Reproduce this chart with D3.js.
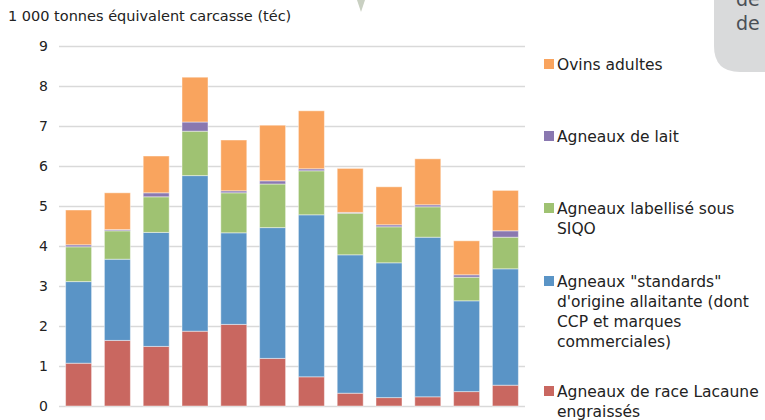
<!DOCTYPE html>
<html>
<head>
<meta charset="utf-8">
<script src="https://cdn.jsdelivr.net/npm/d3@7"></script>
<style>
  body { margin: 0; background: #fff; }
  svg { display: block; font-family: "DejaVu Sans", sans-serif; }
</style>
</head>
<body>
<div id="chart"></div>
<script>
// Data (1 000 téc), bottom to top
const months = ["janv", "févr", "mars", "avr", "mai", "juin", "juil", "août", "sept", "oct", "nov", "déc"];
const lacaune   = [1.07, 1.64, 1.49, 1.87, 2.04, 1.19, 0.73, 0.32, 0.21, 0.23, 0.36, 0.52];
const standards = [2.04, 2.03, 2.85, 3.89, 2.29, 3.27, 4.05, 3.46, 3.37, 3.99, 2.27, 2.91];
const siqo      = [0.87, 0.71, 0.89, 1.11, 1.00, 1.09, 1.10, 1.04, 0.90, 0.76, 0.59, 0.79];
const lait      = [0.05, 0.03, 0.10, 0.23, 0.05, 0.08, 0.05, 0.02, 0.05, 0.05, 0.06, 0.16];
const adultes   = [0.87, 0.92, 0.92, 1.12, 1.27, 1.39, 1.45, 1.10, 0.95, 1.15, 0.85, 1.01];
const yTicks = [0, 1, 2, 3, 4, 5, 6, 7, 8, 9];

const series = [
  { key: "lacaune",   values: lacaune,   color: "#c96760", label: ["Agneaux de race Lacaune", "engraissés"] },
  { key: "standards", values: standards, color: "#5a94c6", label: ["Agneaux \"standards\"", "d'origine allaitante (dont", "CCP et marques", "commerciales)"] },
  { key: "siqo",      values: siqo,      color: "#9fc272", label: ["Agneaux labellisé sous", "SIQO"] },
  { key: "lait",      values: lait,      color: "#8a78b0", label: ["Agneaux de lait"] },
  { key: "adultes",   values: adultes,   color: "#f9a45e", label: ["Ovins adultes"] }
];

const width = 765, height = 420;
const x0 = 59, x1 = 525, yTop = 46, yBottom = 406;

const svg = d3.select("#chart").append("svg")
  .attr("width", width)
  .attr("height", height);

// decorative bits at the edges (page context)
svg.append("path")
  .attr("d", "M357,0 L365,0 L361,12 Z")
  .attr("fill", "#c9d0c2");
svg.append("path")
  .attr("d", "M714,-10 L775,-10 L775,72 L740,72 Q714,72 714,46 Z")
  .attr("fill", "#d9dadb");
svg.append("text")
  .attr("x", 736).attr("y", 6)
  .attr("font-size", 19)
  .attr("fill", "#4a4f55")
  .text("de r");
svg.append("text")
  .attr("x", 736).attr("y", 30)
  .attr("font-size", 19)
  .attr("fill", "#4a4f55")
  .text("de c");

// stack
const table = months.map((m, i) => {
  const row = { month: m };
  series.forEach(s => row[s.key] = s.values[i]);
  return row;
});
const stacked = d3.stack().keys(series.map(s => s.key))(table);

const x = d3.scaleBand().domain(months).range([x0, x1]).paddingInner(0.33).paddingOuter(0.17);
const y = d3.scaleLinear().domain([0, 9]).range([yBottom, yTop]);

// gridlines
svg.append("g")
  .selectAll("line")
  .data(yTicks)
  .join("line")
  .attr("x1", x0).attr("x2", x1)
  .attr("y1", d => y(d) + 0.5).attr("y2", d => y(d) + 0.5)
  .attr("stroke", "#d9d9d9")
  .attr("stroke-width", 1.5);

// y axis labels
const yAxis = svg.append("g")
  .attr("transform", `translate(${x0 - 11},0)`)
  .call(d3.axisLeft(y).tickValues(yTicks).tickSize(0).tickPadding(0));
yAxis.select(".domain").remove();
yAxis.selectAll("text")
  .attr("font-family", "DejaVu Sans, sans-serif")
  .attr("font-size", 14)
  .attr("fill", "#222");

// x axis labels (mostly cut off at the bottom of the picture)
const xAxis = svg.append("g")
  .attr("transform", `translate(0,${yBottom})`)
  .call(d3.axisBottom(x).tickSize(0).tickPadding(16));
xAxis.select(".domain").remove();
xAxis.selectAll("text")
  .attr("font-family", "DejaVu Sans, sans-serif")
  .attr("font-size", 13)
  .attr("fill", "#888");

// bars
svg.append("g")
  .selectAll("g")
  .data(stacked)
  .join("g")
  .attr("fill", (d, i) => series[i].color)
  .selectAll("rect")
  .data(d => d)
  .join("rect")
  .attr("x", d => x(d.data.month))
  .attr("width", x.bandwidth())
  .attr("y", d => y(d[1]))
  .attr("height", d => y(d[0]) - y(d[1]))
  .attr("stroke", "#fff")
  .attr("stroke-opacity", 0.45)
  .attr("stroke-width", 1);

// y axis title
svg.append("text")
  .attr("x", 8).attr("y", 21)
  .attr("font-size", 14.5)
  .attr("fill", "#222")
  .text("1 000 tonnes équivalent carcasse (téc)");

// legend (top to bottom: reversed order)
const legendTops = [70, 142, 214, 287, 397];
const legend = svg.append("g");
series.slice().reverse().forEach((s, i) => {
  const g = legend.append("g").attr("transform", `translate(544,${legendTops[i]})`);
  g.append("rect")
    .attr("x", 0).attr("y", -11)
    .attr("width", 10).attr("height", 10)
    .attr("fill", s.color);
  const t = g.append("text")
    .attr("x", 13).attr("y", 0)
    .attr("font-size", 15.5)
    .attr("fill", "#222");
  s.label.forEach((line, j) => {
    t.append("tspan").attr("x", 13).attr("dy", j === 0 ? 0 : 20).text(line);
  });
});
</script>
</body>
</html>
